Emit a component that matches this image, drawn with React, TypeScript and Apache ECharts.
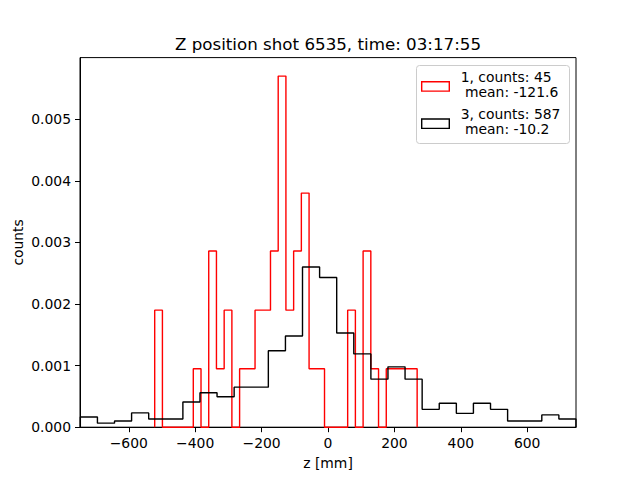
import { useEffect, useRef } from 'react';
import * as echarts from 'echarts';

const titleText = 'Z position shot 6535, time: 03:17:55';
const xLabel = 'z [mm]';
const yLabel = 'counts';

const xTicks = [-600, -400, -200, 0, 200, 400, 600];
const yTicks = [0, 0.001, 0.002, 0.003, 0.004, 0.005];

const redLegend = ['1, counts: 45', ' mean: -121.6'];
const blackLegend = ['3, counts: 587', ' mean: -10.2'];

// red histogram (shot 1): bin edges and density per bin
const redEdges = [
  -522, -498.75, -475.5, -452.25, -429, -405.75, -382.5, -359.25, -336, -312.75,
  -289.5, -266.25, -243, -219.75, -196.5, -173.25, -150, -126.75, -103.5, -80.25,
  -57, -33.75, -10.5, 12.75, 36, 59.25, 82.5, 105.75, 129, 152.25,
  175.5, 198.75, 222, 245.25, 268.5,
];
const redDensity = [
  0.0019, 0, 0, 0, 0, 0.00095, 0, 0.00286, 0.00095, 0.0019,
  0, 0.00095, 0.00095, 0.0019, 0.0019, 0.00286, 0.0057, 0.0019, 0.00286, 0.0038,
  0.00095, 0.00095, 0, 0, 0, 0.0019, 0, 0.00286, 0.00095, 0,
  0.00095, 0.00095, 0.00095, 0.00095,
];

// black histogram (shot 3): bin edges and density per bin
const blackEdges = [
  -746, -694.5, -643, -591.6, -540.1, -488.6, -437.1, -385.6, -334.2, -282.7,
  -231.2, -179.7, -128.2, -76.8, -25.3, 26.2, 77.7, 129.2, 180.6, 232.1,
  283.6, 335.1, 386.6, 438, 489.5, 541, 592.5, 644, 695.4, 746.9,
];
const blackDensity = [
  0.000165, 0.000066, 0.0001, 0.000232, 0.000132, 0.000132, 0.00041, 0.00056, 0.000495, 0.00065,
  0.00065, 0.00124, 0.00148, 0.0026, 0.00243, 0.00153, 0.00119, 0.00078, 0.00098, 0.00078,
  0.00029, 0.00039, 0.000225, 0.00039, 0.00029, 0.0001, 0.0001, 0.0002, 0.000132,
];

const FONT = 'DejaVu Sans';

function stepOutline(edges: number[], heights: number[]) {
  const pts: number[][] = [[edges[0], 0]];
  for (let i = 0; i < heights.length; i++) {
    pts.push([edges[i], heights[i]]);
    pts.push([edges[i + 1], heights[i]]);
  }
  pts.push([edges[edges.length - 1], 0]);
  return pts;
}

const minus = (s: string) => s.replace(/-/g, '\u2212');

export default function App() {
  const ref = useRef<HTMLDivElement>(null);
  useEffect(() => {
    if (!ref.current) return;
    const chart = echarts.init(ref.current, null, { renderer: 'svg' });
    const option: any = {
      animation: false,
      backgroundColor: '#ffffff',
      grid: {
        left: 80,
        right: 64,
        top: 57.6,
        bottom: 52.8,
        show: true,
        borderColor: '#000',
        borderWidth: 1,
        backgroundColor: 'transparent',
      },
      xAxis: {
        type: 'value',
        min: -747,
        max: 747,
        axisLine: { show: true, onZero: false, lineStyle: { color: '#000', width: 1 } },
        axisTick: { show: true, length: 5, lineStyle: { color: '#000' }, customValues: xTicks },
        axisLabel: {
          customValues: xTicks,
          margin: 9,
          color: '#000',
          fontFamily: FONT,
          fontSize: 13.9,
          formatter: (v: number) => minus(String(Math.round(v))),
        },
        splitLine: { show: false },
      },
      yAxis: {
        type: 'value',
        min: 0,
        max: 0.006,
        axisLine: { show: true, onZero: false, lineStyle: { color: '#000', width: 1 } },
        axisTick: { show: true, length: 5, lineStyle: { color: '#000' }, customValues: yTicks },
        axisLabel: {
          customValues: yTicks,
          margin: 9,
          color: '#000',
          fontFamily: FONT,
          fontSize: 13.9,
          formatter: (v: number) => v.toFixed(3),
        },
        splitLine: { show: false },
      },
      series: [
        {
          name: redLegend.join('\n'),
          type: 'line',
          data: stepOutline(redEdges, redDensity),
          symbol: 'none',
          lineStyle: { color: '#ff0000', width: 1.4 },
          clip: true,
        },
        {
          name: blackLegend.join('\n'),
          type: 'line',
          data: stepOutline(blackEdges, blackDensity),
          symbol: 'none',
          lineStyle: { color: '#000000', width: 1.4 },
          clip: true,
        },
      ],
      graphic: [
        {
          type: 'text',
          x: 328,
          y: 43.5,
          style: {
            text: titleText,
            fontFamily: FONT,
            fontSize: 16.7,
            fill: '#000',
            textAlign: 'center',
            textVerticalAlign: 'middle',
          },
        },
        {
          type: 'text',
          x: 328,
          y: 463,
          style: {
            text: xLabel,
            fontFamily: FONT,
            fontSize: 13.9,
            fill: '#000',
            textAlign: 'center',
            textVerticalAlign: 'middle',
          },
        },
        {
          type: 'text',
          x: 18,
          y: 242.4,
          rotation: Math.PI / 2,
          style: {
            text: yLabel,
            fontFamily: FONT,
            fontSize: 13.9,
            fill: '#000',
            textAlign: 'center',
            textVerticalAlign: 'middle',
          },
        },
        {
          type: 'group',
          z: 100,
          children: [
            {
              type: 'rect',
              shape: { x: 416.5, y: 65.5, width: 153, height: 78, r: 3 },
              style: { fill: 'rgba(255,255,255,0.8)', stroke: '#cccccc', lineWidth: 1 },
            },
            {
              type: 'rect',
              shape: { x: 421.7, y: 81.7, width: 27.6, height: 9.4 },
              style: { fill: 'none', stroke: '#ff0000', lineWidth: 1.4 },
            },
            {
              type: 'rect',
              shape: { x: 421.7, y: 119, width: 27.6, height: 9.4 },
              style: { fill: 'none', stroke: '#000000', lineWidth: 1.4 },
            },
            {
              type: 'text',
              x: 460.7,
              y: 76.7,
              style: { text: redLegend[0], fontFamily: FONT, fontSize: 13.9, fill: '#000', textVerticalAlign: 'middle' },
            },
            {
              type: 'text',
              x: 465,
              y: 91.7,
              style: { text: redLegend[1].trim(), fontFamily: FONT, fontSize: 13.9, fill: '#000', textVerticalAlign: 'middle' },
            },
            {
              type: 'text',
              x: 460.7,
              y: 114.3,
              style: { text: blackLegend[0], fontFamily: FONT, fontSize: 13.9, fill: '#000', textVerticalAlign: 'middle' },
            },
            {
              type: 'text',
              x: 465,
              y: 129,
              style: { text: blackLegend[1].trim(), fontFamily: FONT, fontSize: 13.9, fill: '#000', textVerticalAlign: 'middle' },
            },
          ],
        },
      ],
    };
    chart.setOption(option);
    return () => chart.dispose();
  }, []);
  return (
    <div
      ref={ref}
      style={{ position: 'fixed', left: 0, top: 0, width: 640, height: 480 }}
    />
  );
}
